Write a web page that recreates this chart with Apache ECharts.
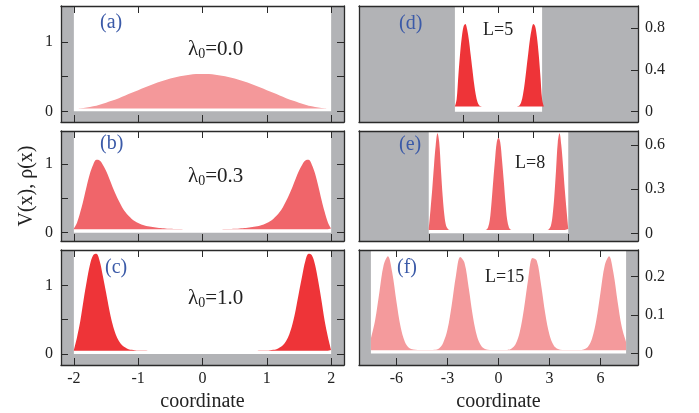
<!DOCTYPE html>
<html>
<head>
<meta charset="utf-8">
<script src="https://cdn.jsdelivr.net/npm/echarts@6/dist/echarts.min.js"></script>
<style>
html, body { margin: 0; padding: 0; background: #fff; }
#chart { width: 699px; height: 413px; }
</style>
</head>
<body>
<div id="chart"></div>
<script>
var rhoA = [0.040, 0.045, 0.055, 0.072, 0.096, 0.125, 0.155, 0.190, 0.228, 0.267,
  0.305, 0.343, 0.380, 0.414, 0.445, 0.472, 0.495, 0.514, 0.528, 0.537,
  0.540,
  0.537, 0.528, 0.514, 0.495, 0.472, 0.445, 0.414, 0.380, 0.343, 0.305,
  0.267, 0.228, 0.190, 0.155, 0.125, 0.096, 0.072, 0.055, 0.045, 0.040];
var rhoB = [0.06, 0.15, 0.30, 0.48, 0.68, 0.86, 0.99, 1.06, 1.05, 0.99,
  0.90, 0.79, 0.67, 0.56, 0.46, 0.37, 0.30, 0.245, 0.20, 0.165,
  0.14, 0.12, 0.105, 0.094, 0.085, 0.078, 0.072, 0.067, 0.063, 0.059,
  0.056, 0.054, 0.053, 0.052, 0.051, 0.051, 0.050, 0.050, 0.050, 0.050,
  0.050,
  0.050, 0.050, 0.050, 0.050, 0.051, 0.051, 0.052, 0.053, 0.054, 0.056,
  0.059, 0.063, 0.067, 0.072, 0.078, 0.085, 0.094, 0.105, 0.12, 0.14,
  0.165, 0.20, 0.245, 0.30, 0.37, 0.46, 0.56, 0.67, 0.79, 0.90,
  0.99, 1.05, 1.06, 0.99, 0.86, 0.68, 0.48, 0.30, 0.15, 0.06];
var rhoC = [0.06, 0.25, 0.48, 0.78, 1.06, 1.30, 1.44, 1.46, 1.36, 1.14,
  0.90, 0.65, 0.44, 0.29, 0.19, 0.13, 0.095, 0.072, 0.062, 0.056,
  0.053, 0.052, 0.051, 0.050, 0.050, 0.050, 0.050, 0.050, 0.050, 0.050,
  0.050, 0.050, 0.050, 0.050, 0.050, 0.050, 0.050, 0.050, 0.050, 0.050,
  0.050,
  0.050, 0.050, 0.050, 0.050, 0.050, 0.050, 0.050, 0.050, 0.050, 0.050,
  0.050, 0.050, 0.050, 0.050, 0.050, 0.050, 0.050, 0.051, 0.052, 0.053,
  0.056, 0.062, 0.072, 0.095, 0.13, 0.19, 0.29, 0.44, 0.65, 0.90,
  1.14, 1.36, 1.46, 1.44, 1.30, 1.06, 0.78, 0.48, 0.25, 0.06];
var rhoD = [0.05, 0.12, 0.35, 0.56, 0.72, 0.82, 0.84, 0.79, 0.69, 0.55,
  0.41, 0.27, 0.16, 0.09, 0.06, 0.052, 0.05, 0.05, 0.05, 0.05,
  0.05, 0.05, 0.05, 0.05, 0.05,
  0.05,
  0.05, 0.05, 0.05, 0.05, 0.05, 0.05, 0.05, 0.05, 0.05, 0.05,
  0.052, 0.06, 0.09, 0.16, 0.27, 0.41, 0.55, 0.69, 0.79, 0.84,
  0.82, 0.72, 0.56, 0.35, 0.12, 0.05];
var rhoE = [0.03, 0.16, 0.30, 0.46, 0.60, 0.68, 0.62, 0.43, 0.25, 0.12,
  0.05, 0.03, 0.023, 0.022, 0.022, 0.022, 0.022, 0.022, 0.022, 0.022,
  0.022, 0.022, 0.022, 0.022, 0.022, 0.022, 0.022, 0.022, 0.022, 0.022,
  0.022, 0.022, 0.022, 0.025, 0.04, 0.09, 0.21, 0.36, 0.50, 0.62,
  0.65,
  0.62, 0.50, 0.36, 0.21, 0.09, 0.04, 0.025, 0.022, 0.022, 0.022,
  0.022, 0.022, 0.022, 0.022, 0.022, 0.022, 0.022, 0.022, 0.022, 0.022,
  0.022, 0.022, 0.022, 0.022, 0.022, 0.022, 0.022, 0.023, 0.03, 0.05,
  0.12, 0.25, 0.43, 0.62, 0.68, 0.60, 0.46, 0.30, 0.16, 0.03];
var rhoF = [0.039, 0.087, 0.160, 0.230, 0.253, 0.211, 0.135, 0.068, 0.030, 0.014,
  0.010, 0.009, 0.009, 0.009, 0.009, 0.0095, 0.013, 0.028, 0.062, 0.126,
  0.203, 0.251, 0.236, 0.170, 0.095, 0.043, 0.019, 0.011, 0.009, 0.009,
  0.009,
  0.009, 0.0093, 0.0125, 0.024, 0.056, 0.117, 0.194, 0.248, 0.241, 0.179,
  0.103, 0.048, 0.021, 0.0114, 0.009, 0.009, 0.009, 0.009, 0.009, 0.0105,
  0.017, 0.039, 0.087, 0.160, 0.230, 0.253, 0.211, 0.135, 0.068, 0.030];

var densities = [rhoA, rhoB, rhoC, rhoD, rhoE, rhoF];
var xStart = [-2, -2, -2, -2.5, -4, -7.5];
var xStep = [0.1, 0.05, 0.05, 0.1, 0.1, 0.25];
var baseLevel = [0.04, 0.05, 0.05, 0.05, 0.022, 0.0085];
// half width of the box potential (white region)
var wellHalf = [2, 2, 2, 2.5, 4, 7.5];

var panelTags = ["(a)", "(b)", "(c)", "(d)", "(e)", "(f)"];
var lambdaValues = ["0.0", "0.3", "1.0"];
var lengthValues = ["5", "8", "15"];

var xRange = [[-2.2, 2.2], [-2.2, 2.2], [-2.2, 2.2], [-8, 8], [-8, 8], [-8.2, 8.2]];
var yRange = [[-0.154, 1.519], [-0.121, 1.48], [-0.159, 1.515],
  [-0.099, 1.013], [-0.052, 0.696], [-0.030, 0.269]];
var xTicksBottom = [[-2, -1, 0, 1, 2], [-2, -1, 0, 1, 2], [-2, -1, 0, 1, 2],
  [-2, 0, 2], [-4, -2, 0, 2, 4], [-6, -3, 0, 3, 6]];
var xTicksTop = [[-2, -1, 0, 1, 2], [-2, -1, 0, 1, 2], [-2, -1, 0, 1, 2],
  [-2, 0, 2], [-2, 0, 2], [-6, -3, 0, 3, 6]];
var yTicks = [[0, 0.5, 1], [0, 0.5, 1], [0, 0.5, 1], [0, 0.4, 0.8], [0, 0.3, 0.6], [0, 0.1, 0.2]];
var yTickLabels = [[0, 1], [0, 1], [0, 1], [0, 0.4, 0.8], [0, 0.3, 0.6], [0, 0.1, 0.2]];

var fillColors = ["#f4989a", "#f0656a", "#ee3438", "#ee3438", "#f0666a", "#f49a9c"];
var FONT = "'Liberation Serif', 'Times New Roman', serif";
var INK = "#222";
var GRAY = "#b2b3b6";
var BLUE = "#3b5aa8";

var colLeft = [61, 359], colWidth = [283, 279];
var rowTop = [6, 131, 250], rowHeight = [116, 110, 116];

function axisCommon(ticks, labels, pos, labelMargin) {
  return {
    type: "value",
    position: pos,
    axisLine: { show: true, onZero: false, lineStyle: { color: "#2a2a2a", width: 1.3 } },
    axisTick: { show: ticks.length > 0, inside: true, length: 7,
      customValues: ticks, lineStyle: { color: "#2a2a2a", width: 1 } },
    axisLabel: { show: labels.length > 0, customValues: labels, margin: labelMargin,
      fontFamily: FONT, fontSize: 16, color: INK },
    splitLine: { show: false },
    z: 10
  };
}

var grids = [], xAxes = [], yAxes = [], series = [], titles = [];
for (var i = 0; i < 6; i++) {
  var col = i < 3 ? 0 : 1, row = i % 3;
  grids.push({ left: colLeft[col], top: rowTop[row], width: colWidth[col], height: rowHeight[row],
    show: true, backgroundColor: GRAY, borderWidth: 0 });

  var xb = axisCommon(xTicksBottom[i], row === 2 ? xTicksBottom[i] : [], "bottom", 6);
  xb.gridIndex = i; xb.min = xRange[i][0]; xb.max = xRange[i][1];
  if (row === 2) {
    xb.name = "coordinate"; xb.nameLocation = "middle"; xb.nameGap = 27;
    xb.nameTextStyle = { fontFamily: FONT, fontSize: 20, color: INK };
  }
  var xt = axisCommon(xTicksTop[i], [], "top", 6);
  xt.gridIndex = i; xt.min = xRange[i][0]; xt.max = xRange[i][1];
  xAxes.push(xb, xt);

  var yl, yr;
  if (col === 0) {
    yl = axisCommon(yTicks[i], yTickLabels[i], "left", 8);
    yr = axisCommon(yTicks[i], [], "right", 8);
    if (row === 1) {
      yl.name = "V(x), \u03c1(x)"; yl.nameLocation = "middle"; yl.nameRotate = 90; yl.nameGap = 24;
      yl.nameTextStyle = { fontFamily: FONT, fontSize: 20, color: INK };
    }
  } else {
    yl = axisCommon([], [], "left", 8);
    yr = axisCommon(yTicks[i], yTickLabels[i], "right", 7);
  }
  yl.gridIndex = i; yl.min = yRange[i][0]; yl.max = yRange[i][1];
  yr.gridIndex = i; yr.min = yRange[i][0]; yr.max = yRange[i][1];
  yAxes.push(yl, yr);

  // white inside of the box potential
  series.push({
    type: "custom", xAxisIndex: 2 * i, yAxisIndex: 2 * i, z: 1, silent: true,
    data: [[-wellHalf[i], wellHalf[i], 0, yRange[i][1]]],
    renderItem: function (params, api) {
      var a = api.coord([api.value(0), api.value(3)]);
      var b = api.coord([api.value(1), api.value(2)]);
      return { type: "rect", shape: { x: a[0], y: a[1], width: b[0] - a[0], height: b[1] - a[1] },
        style: { fill: "#fff" } };
    }
  });

  var pts = [];
  for (var k = 0; k < densities[i].length; k++) {
    pts.push([xStart[i] + k * xStep[i], densities[i][k]]);
  }
  series.push({
    type: "line", xAxisIndex: 2 * i, yAxisIndex: 2 * i, z: 2, silent: true,
    data: pts, smooth: 0.35, showSymbol: false, symbol: "none",
    lineStyle: { width: 0 },
    areaStyle: { color: fillColors[i], opacity: 1, origin: baseLevel[i] }
  });
}

var tagPos = [[100, 13], [100, 134], [105, 258], [399, 14], [399, 135], [397, 258]];
for (var t = 0; t < 6; t++) {
  titles.push({ text: panelTags[t], left: tagPos[t][0], top: tagPos[t][1], padding: 0,
    textStyle: { fontFamily: FONT, fontSize: 20, fontWeight: "normal", color: BLUE } });
}
var lamTop = [37, 164, 286];
for (var r = 0; r < 3; r++) {
  titles.push({ text: "{l|\u03bb}{s|0}{l|=" + lambdaValues[r] + "}", left: 188, top: lamTop[r], padding: 0,
    textStyle: { fontWeight: "normal", rich: {
      l: { fontFamily: FONT, fontSize: 21, fontWeight: "normal", color: INK },
      s: { fontFamily: FONT, fontSize: 14, fontWeight: "normal", color: INK, padding: [10, 0, 0, 0] }
    } } });
}
var lenPos = [[483, 21], [515, 154], [485, 268]];
for (var q = 0; q < 3; q++) {
  titles.push({ text: "L=" + lengthValues[q], left: lenPos[q][0], top: lenPos[q][1], padding: 0,
    textStyle: { fontFamily: FONT, fontSize: 18, fontWeight: "normal", color: INK } });
}

var chart = echarts.init(document.getElementById("chart"));
chart.setOption({
  animation: false,
  backgroundColor: "#fff",
  title: titles,
  grid: grids,
  xAxis: xAxes,
  yAxis: yAxes,
  series: series
});
</script>
</body>
</html>
